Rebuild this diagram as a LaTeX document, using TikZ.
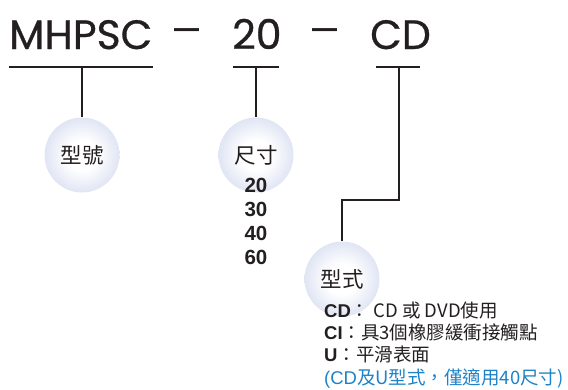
\documentclass[tikz,border=0pt]{standalone}
\usepackage{fontspec}
\setmainfont{Liberation Sans}
\newfontfamily\titlefont{Poppins}[FakeBold=0.7]
\newfontfamily\dashfont{Liberation Sans}
\newfontfamily\cjk{Noto Sans CJK TC}
\definecolor{ink}{HTML}{231F20}
\definecolor{bubcol}{HTML}{E0E5F4}
\definecolor{note}{HTML}{1E82C8}
\pgfdeclareradialshading{bubshade}{\pgfpoint{0bp}{0bp}}{color(0bp)=(white); color(10bp)=(white); color(25bp)=(bubcol); color(50bp)=(bubcol)}
\tikzset{
  title/.style={font=\titlefont\fontsize{41}{41}\selectfont, text=ink, inner sep=0pt},
  dashtxt/.style={font=\dashfont\fontsize{45}{45}\selectfont, text=ink, inner sep=0pt},
  conn/.style={draw=ink, line width=1.1pt},
  bub/.style={circle, minimum size=75pt, inner sep=0pt, shading=bubshade, text=ink,
     font=\cjk\fontsize{21.5}{21.5}\selectfont},
  nums/.style={font=\bfseries\fontsize{20.5}{23.8}\selectfont, text=ink, align=center, inner sep=0pt},
  notes/.style={font=\fontsize{18.5}{22.3}\selectfont, text=ink, align=left, inner sep=0pt}
}
\begin{document}
\begin{tikzpicture}[x=1pt,y=-1pt]
\useasboundingbox (0,0) rectangle (568,389);
% title
\node[title, anchor=base west] (t1) at (9,49) {MHPSC};
\node[dashtxt, anchor=center] (d1) at (187,35) {–};
\node[title, anchor=base west] (t2) at (232,49) {20};
\node[dashtxt, anchor=center] (d2) at (325,35) {–};
\node[title, anchor=base west] (t3) at (370,49) {CD};
% underlines
\coordinate (u1l) at (9,67);  \coordinate (u1r) at (153,67); \coordinate (u1) at (82,67);
\coordinate (u2l) at (233,67); \coordinate (u2r) at (279,67); \coordinate (u2) at (256,67);
\coordinate (u3l) at (376,67); \coordinate (u3r) at (420,67); \coordinate (u3) at (399,67);
\draw[conn] (u1l) -- (u1r);
\draw[conn] (u2l) -- (u2r);
\draw[conn] (u3l) -- (u3r);
% bubbles
\node[bub] (b1) at (82,155) {型號};
\node[bub] (b2) at (256,155) {尺寸};
\node[bub] (b3) at (342,279) {型式};
\coordinate (bend) at (342,200);
\draw[conn] (u1) -- (b1.north);
\draw[conn] (u2) -- (b2.north);
\draw[conn] (u3) |- (bend) -- (b3.north);
% sizes (base anchor = last line)
\node[nums, anchor=base] (sz) at (256,264) {20\\30\\40\\60};
% notes (base anchor = last line)
\node[notes, anchor=base west] (nt) at (324,384) {%
\textbf{CD}\cjk{：} CD \cjk{或} DVD\cjk{使用}\\
\textbf{CI}\cjk{：具}3\cjk{個橡膠緩衝接觸點}\\
\textbf{U}\cjk{：平滑表面}\\
\textcolor{note}{(CD\cjk{及}U\cjk{型式，僅適用}40\cjk{尺寸})}};
\end{tikzpicture}
\end{document}
